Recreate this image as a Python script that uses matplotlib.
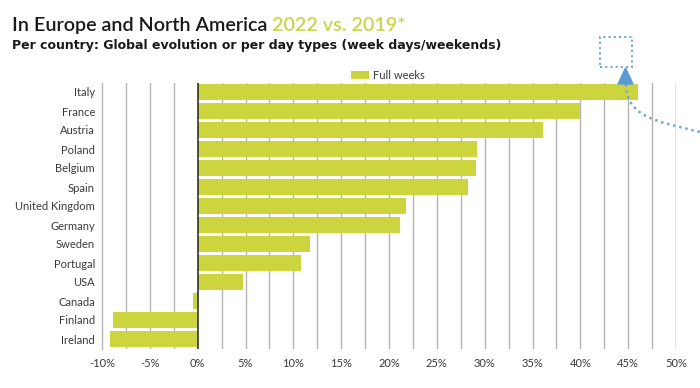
import matplotlib
matplotlib.use("Agg")
import matplotlib.pyplot as plt
from matplotlib.patches import Rectangle
from matplotlib.path import Path
import matplotlib.patches as mpatches

countries = ["Italy", "France", "Austria", "Poland", "Belgium", "Spain",
             "United Kingdom", "Germany", "Sweden", "Portugal", "USA",
             "Canada", "Finland", "Ireland"]
full_weeks = [46.0, 40.0, 36.1, 29.2, 29.1, 28.3, 21.8, 21.2, 11.7, 10.8,
              4.7, -0.5, -8.9, -9.2]
xticks = [-10, -5, 0, 5, 10, 15, 20, 25, 30, 35, 40, 45, 50]
xticklabels = [f"{v}%" for v in xticks]
series_name = "Full weeks"

plt.rcParams['font.family'] = ['Lato', 'DejaVu Sans']

BAR = "#CCD43E"
GREEN_T = "#C5D64A"
GRID = "#B4B4B4"
TXT = "#3A3A3A"

fig = plt.figure(figsize=(7, 3.88), dpi=100)
fig.patch.set_facecolor("white")
ax = fig.add_axes([102/700, 1-348.5/388, (676-102)/700, (348.5-82.5)/388])

ypos = list(range(len(countries)))
ax.barh(ypos, full_weeks, height=0.8, color=BAR, zorder=2, label=series_name)
ax.set_ylim(len(countries)-0.5, -0.5)
ax.set_xlim(-10, 50)

# vertical grid every 2.5%
for i in range(25):
    g = -10 + 2.5*i
    if g == 0 or g == -10:
        continue
    ax.axvline(g, color=GRID, lw=1, zorder=1)
ax.axvline(0, color="#222222", lw=1.1, zorder=3)
ax.axvline(50, color=GRID, lw=1, zorder=1)

for s in ["top", "right", "bottom"]:
    ax.spines[s].set_visible(False)
ax.spines["left"].set_color(GRID)
ax.spines["left"].set_linewidth(1)

ax.set_xticks(xticks)
ax.set_xticklabels(xticklabels, fontsize=8, color=TXT)
ax.set_yticks(ypos)
ax.set_yticklabels(countries, fontsize=8, color=TXT)
ax.tick_params(axis="both", length=0)
ax.tick_params(axis="x", pad=7)
ax.tick_params(axis="y", pad=5)

leg = ax.legend(loc="center left", bbox_to_anchor=(351/700, 1-75.5/388),
                bbox_transform=fig.transFigure, frameon=False, fontsize=8,
                handlelength=1.6, handleheight=0.7, handletextpad=0.4,
                borderpad=0, borderaxespad=0)
for t in leg.get_texts():
    t.set_color(TXT)

# title with two colors
t1 = fig.text(12/700, 1-31/388, "In Europe and North America ", fontsize=14.2,
              fontweight="semibold", color="#1A1A1A", ha="left", va="baseline")
fig.canvas.draw()
r = fig.canvas.get_renderer()
bb = t1.get_window_extent(renderer=r)
fig.text(bb.x1/700, 1-31/388, "2022 vs. 2019*", fontsize=14.2,
         fontweight="semibold", color=GREEN_T, ha="left", va="baseline")
fig.text(12/700, 1-48.5/388,
         "Per country: Global evolution or per day types (week days/weekends)",
         fontsize=9, fontweight="bold", color="#1A1A1A", ha="left", va="baseline",
         family="DejaVu Sans")

# decorative blue dotted annotation
BLUE = "#6FA8DC"
sq = Rectangle((600/700, 1-67/388), 32/700, 30/388, transform=fig.transFigure,
               fill=False, edgecolor=BLUE, lw=1.5, ls=(0, (1, 1.5)), zorder=5)
fig.add_artist(sq)
verts = [(626/700, 1-84/388), (626/700, 1-118/388), (660/700, 1-122/388), (700/700, 1-132/388)]
path = Path(verts, [Path.MOVETO, Path.CURVE4, Path.CURVE4, Path.CURVE4])
pp = mpatches.PathPatch(path, transform=fig.transFigure, fill=False,
                        edgecolor=BLUE, lw=1.8, ls=(0, (1, 1.5)), zorder=5)
fig.add_artist(pp)
tri = mpatches.Polygon([(618/700, 1-84/388), (633/700, 1-84/388), (625.5/700, 1-68/388)],
                       closed=True, transform=fig.transFigure, color="#5B9BD5", zorder=6)
fig.add_artist(tri)

fig.savefig("out.png", dpi=100)
